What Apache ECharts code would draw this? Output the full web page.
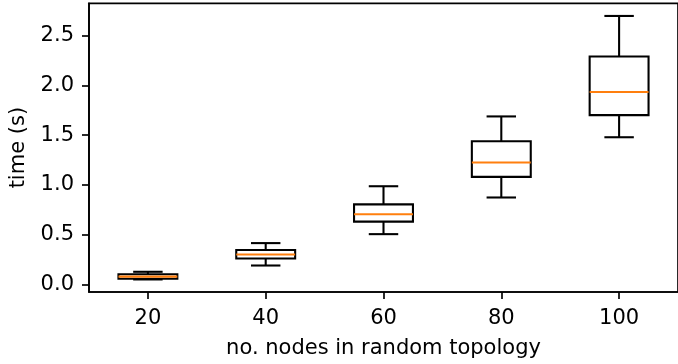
<!DOCTYPE html>
<html>
<head>
<meta charset="utf-8">
<script src="https://cdn.jsdelivr.net/npm/echarts@6/dist/echarts.min.js"></script>
<style>
html,body{margin:0;padding:0;background:#fff;}
#chart{width:678px;height:364px;}
</style>
</head>
<body>
<div id="chart"></div>
<script>
const categories = ['20', '40', '60', '80', '100'];
const whiskerLow = [0.05, 0.19, 0.505, 0.873, 1.478];
const q1 = [0.057, 0.26, 0.631, 1.08, 1.70];
const median = [0.078, 0.30, 0.704, 1.225, 1.932];
const q3 = [0.103, 0.345, 0.804, 1.438, 2.288];
const whiskerHigh = [0.127, 0.415, 0.986, 1.687, 2.696];
const yTicks = [0, 0.5, 1.0, 1.5, 2.0, 2.5];

const FONT = 'DejaVu Sans';
const FS = 21;
const LW = 2.08;

const data = categories.map((c, i) => [i, whiskerLow[i], q1[i], median[i], q3[i], whiskerHigh[i]]);

const chart = echarts.init(document.getElementById('chart'), null, {renderer: 'canvas'});
chart.setOption({
  animation: false,
  backgroundColor: '#ffffff',
  grid: {left: 88, top: 3.3, width: 597, height: 291, show: true, borderColor: '#000', borderWidth: 1.67, backgroundColor: 'transparent'},
  xAxis: {
    type: 'category',
    data: categories,
    boundaryGap: true,
    name: 'no. nodes in random topology',
    nameLocation: 'middle',
    nameGap: 46,
    nameTextStyle: {fontFamily: FONT, fontSize: FS, color: '#000'},
    axisLine: {show: true, onZero: false, lineStyle: {color: '#000', width: 1.67}},
    axisTick: {show: true, alignWithLabel: true, length: 7, lineStyle: {color: '#000', width: 1.67}},
    axisLabel: {fontFamily: FONT, fontSize: FS, color: '#000', margin: 16},
    splitLine: {show: false}
  },
  yAxis: {
    type: 'value',
    min: -0.076,
    max: 2.823,
    name: 'time (s)',
    nameLocation: 'middle',
    nameGap: 60,
    nameTextStyle: {fontFamily: FONT, fontSize: FS, color: '#000'},
    axisLine: {show: true, onZero: false, lineStyle: {color: '#000', width: 1.67}},
    axisTick: {show: true, length: 7, customValues: yTicks, lineStyle: {color: '#000', width: 1.67}},
    axisLabel: {fontFamily: FONT, fontSize: FS, color: '#000', margin: 15, customValues: yTicks,
      formatter: v => Number(v).toFixed(1)},
    splitLine: {show: false}
  },
  series: [{
    type: 'custom',
    data: data,
    encode: {x: 0, y: [1, 2, 3, 4, 5]},
    renderItem: function (params, api) {
      const x = api.value(0);
      const pLo = api.coord([x, api.value(1)]);
      const pQ1 = api.coord([x, api.value(2)]);
      const pMed = api.coord([x, api.value(3)]);
      const pQ3 = api.coord([x, api.value(4)]);
      const pHi = api.coord([x, api.value(5)]);
      const bw = api.size([1, 0])[0] * 0.5;
      const cw = bw * 0.5;
      const cx = pMed[0];
      const black = {stroke: '#000', lineWidth: LW, fill: null};
      return {
        type: 'group',
        children: [
          {type: 'line', shape: {x1: cx, y1: pQ1[1], x2: cx, y2: pLo[1]}, style: black},
          {type: 'line', shape: {x1: cx, y1: pQ3[1], x2: cx, y2: pHi[1]}, style: black},
          {type: 'line', shape: {x1: cx - cw / 2, y1: pLo[1], x2: cx + cw / 2, y2: pLo[1]}, style: black},
          {type: 'line', shape: {x1: cx - cw / 2, y1: pHi[1], x2: cx + cw / 2, y2: pHi[1]}, style: black},
          {type: 'rect', shape: {x: cx - bw / 2, y: pQ3[1], width: bw, height: pQ1[1] - pQ3[1]}, style: {stroke: '#000', lineWidth: LW, fill: 'transparent'}},
          {type: 'line', shape: {x1: cx - bw / 2, y1: pMed[1], x2: cx + bw / 2, y2: pMed[1]}, style: {stroke: '#ff7f0e', lineWidth: LW}}
        ]
      };
    }
  }]
});
</script>
</body>
</html>
